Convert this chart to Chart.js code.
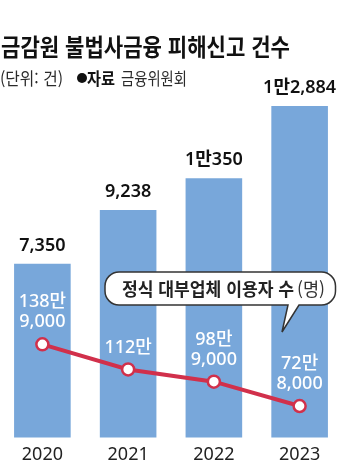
<!DOCTYPE html>
<html lang="ko">
<head>
<meta charset="utf-8">
<script src="https://cdn.jsdelivr.net/npm/chart.js@4.4.1/dist/chart.umd.min.js"></script>
<style>
  html, body { margin: 0; padding: 0; background: #fff; }
  #wrap { position: relative; width: 340px; height: 475px; overflow: hidden; }
  /* canvas a bit wider than the page so the first/last bars sit near the edges */
  #chart { position: absolute; left: -9px; top: 0; }
  #overlay { position: absolute; left: 0; top: 0; pointer-events: none; font-family: "Noto Sans CJK KR", sans-serif; }
</style>
</head>
<body>
<div id="wrap">
  <canvas id="chart" width="360" height="475"></canvas>
  <svg id="overlay" width="340" height="475" xmlns="http://www.w3.org/2000/svg">
    <text x="1" y="56" font-size="24" font-weight="700" fill="#111" textLength="289" lengthAdjust="spacingAndGlyphs">금감원 불법사금융 피해신고 건수</text>
    <text x="0" y="84.5" font-size="17" fill="#2a2a2a" textLength="63" lengthAdjust="spacingAndGlyphs">(단위: 건)</text>
    <circle cx="82" cy="78" r="5" fill="#111"></circle>
    <text x="87" y="84.5" font-size="17" font-weight="700" fill="#111" textLength="28" lengthAdjust="spacingAndGlyphs">자료</text>
    <text x="121" y="84.5" font-size="17" fill="#2a2a2a" textLength="66" lengthAdjust="spacingAndGlyphs">금융위원회</text>
    <!-- callout -->
    <path d="M119 272 H321.5 A14 14 0 0 1 335.5 286 V291 A14 14 0 0 1 321.5 305 H299 L282 332 L288 305 H119 A14 14 0 0 1 105 291 V286 A14 14 0 0 1 119 272 Z"
          fill="#fff" stroke="#333" stroke-width="1.5"></path>
    <text x="122" y="296" font-size="18" font-weight="700" fill="#222" textLength="172" lengthAdjust="spacingAndGlyphs">정식 대부업체 이용자 수</text>
    <text x="297" y="296" font-size="18" fill="#333" textLength="28" lengthAdjust="spacingAndGlyphs">(명)</text>
  </svg>
</div>
<script>
const years = ["2020", "2021", "2022", "2023"];
const reports = [7350, 9238, 10350, 12884];
const reportLabels = ["7,350", "9,238", "1만350", "1만2,884"];
const users = [1389000, 1120000, 989000, 728000];
const userLabels = [["138만", "9,000"], ["112만"], ["98만", "9,000"], ["72만", "8,000"]];

const FONT = '"Noto Sans", "Noto Sans CJK KR", sans-serif';
const RED = "#d1304b";

// numbers above bars + white labels above line points
const valueLabels = {
  id: "valueLabels",
  afterDatasetsDraw(chart) {
    const ctx = chart.ctx;
    const lineMeta = chart.getDatasetMeta(0);
    const barMeta = chart.getDatasetMeta(1);
    ctx.save();
    ctx.textAlign = "center";
    ctx.textBaseline = "middle";

    ctx.fillStyle = "#111";
    ctx.font = "600 18px " + FONT;
    barMeta.data.forEach((bar, i) => {
      ctx.fillText(reportLabels[i], bar.x, bar.y - 18);
    });

    ctx.fillStyle = "#fff";
    ctx.font = "500 18px " + FONT;
    lineMeta.data.forEach((pt, i) => {
      const lines = userLabels[i];
      lines.forEach((t, j) => {
        const y = pt.y - 22 - (lines.length - 1 - j) * 20;
        ctx.fillText(t, pt.x, y);
      });
    });
    ctx.restore();
  }
};

new Chart(document.getElementById("chart").getContext("2d"), {
  type: "bar",
  data: {
    labels: years,
    datasets: [
      {
        type: "line",
        data: users,
        yAxisID: "y2",
        order: 0,
        borderColor: RED,
        borderWidth: 4,
        tension: 0,
        pointRadius: 6,
        pointBorderWidth: 2.5,
        pointBackgroundColor: "#fff",
        pointBorderColor: RED
      },
      {
        type: "bar",
        data: reports,
        yAxisID: "y",
        order: 1,
        backgroundColor: "#78a7da",
        borderWidth: 0,
        categoryPercentage: 1,
        barPercentage: 0.66
      }
    ]
  },
  options: {
    responsive: false,
    animation: false,
    layout: { padding: { top: 60, bottom: 2, left: 0, right: 0 } },
    plugins: {
      legend: { display: false },
      tooltip: { enabled: false }
    },
    scales: {
      x: {
        grid: { display: false, drawTicks: false },
        border: { display: false },
        ticks: { color: "#222", padding: 7, font: { size: 18, family: FONT } }
      },
      y: { display: false, min: 1250, max: 14500 },
      y2: { display: false, position: "right", min: 391500, max: 4436500 }
    }
  },
  plugins: [valueLabels]
});
</script>
</body>
</html>
